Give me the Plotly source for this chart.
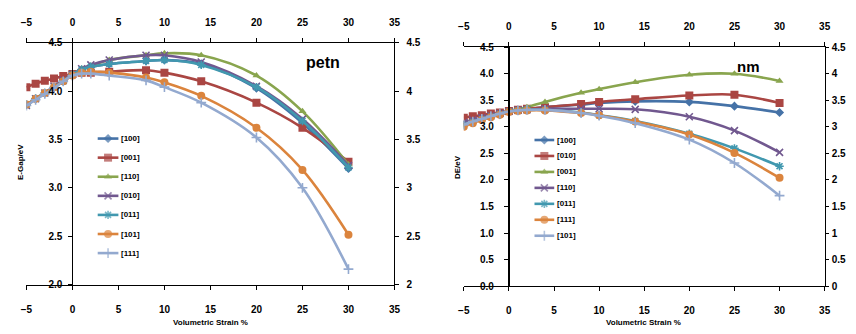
import plotly.graph_objects as go

# ---------------- data ----------------
strain = [-5, -4, -3, -2, -1, 0, 1, 2, 4, 8, 10, 14, 20, 25, 30]

petn_names = ["[100]", "[001]", "[110]", "[010]", "[011]", "[101]", "[111]"]
petn_100 = [3.86, 3.92, 3.98, 4.04, 4.11, 4.17, 4.22, 4.25, 4.28, 4.31, 4.32, 4.28, 4.03, 3.67, 3.20]
petn_001 = [4.04, 4.075, 4.105, 4.13, 4.155, 4.175, 4.19, 4.19, 4.20, 4.215, 4.19, 4.10, 3.88, 3.62, 3.27]
petn_110 = [3.85, 3.92, 3.98, 4.04, 4.11, 4.17, 4.23, 4.26, 4.32, 4.37, 4.39, 4.37, 4.16, 3.79, 3.24]
petn_010 = [3.85, 3.92, 3.98, 4.05, 4.11, 4.17, 4.23, 4.27, 4.32, 4.37, 4.37, 4.30, 4.05, 3.71, 3.23]
petn_011 = [3.86, 3.92, 3.98, 4.04, 4.10, 4.17, 4.22, 4.25, 4.28, 4.31, 4.32, 4.27, 4.04, 3.69, 3.21]
petn_101 = [3.86, 3.92, 3.98, 4.04, 4.10, 4.16, 4.19, 4.20, 4.19, 4.14, 4.09, 3.95, 3.62, 3.185, 2.515]
petn_111 = [3.85, 3.91, 3.97, 4.03, 4.10, 4.16, 4.18, 4.18, 4.16, 4.11, 4.04, 3.88, 3.52, 3.00, 2.16]

nm_names = ["[100]", "[010]", "[001]", "[110]", "[011]", "[111]", "[101]"]
nm_100 = [3.05, 3.10, 3.15, 3.19, 3.23, 3.28, 3.31, 3.33, 3.37, 3.42, 3.45, 3.48, 3.47, 3.39, 3.27]
nm_010 = [3.17, 3.20, 3.22, 3.25, 3.27, 3.30, 3.32, 3.34, 3.37, 3.43, 3.47, 3.52, 3.59, 3.605, 3.45]
nm_001 = [3.04, 3.10, 3.16, 3.21, 3.26, 3.30, 3.33, 3.37, 3.47, 3.64, 3.71, 3.84, 3.98, 4.00, 3.865]
nm_110 = [3.08, 3.13, 3.17, 3.21, 3.25, 3.29, 3.31, 3.32, 3.34, 3.34, 3.34, 3.33, 3.19, 2.93, 2.52]
nm_011 = [3.03, 3.09, 3.14, 3.19, 3.24, 3.29, 3.31, 3.32, 3.32, 3.27, 3.22, 3.11, 2.87, 2.595, 2.26]
nm_111 = [3.00, 3.07, 3.13, 3.18, 3.23, 3.28, 3.30, 3.31, 3.31, 3.26, 3.22, 3.10, 2.855, 2.51, 2.04]
nm_101 = [3.04, 3.10, 3.15, 3.20, 3.25, 3.29, 3.31, 3.32, 3.32, 3.26, 3.21, 3.07, 2.76, 2.32, 1.705]

x_ticks = [-5, 0, 5, 10, 15, 20, 25, 30, 35]

# ---------------- styles ----------------
colors = ["#4572A7", "#AA4643", "#89A54E", "#71588F", "#4198AF", "#DB843D", "#93A9CF"]
symbols = ["diamond", "square", "triangle-up", "x-thin-open", "asterisk-open", "circle", "cross-thin-open"]
msizes = [7, 8, 7, 7, 7, 8, 7]
FONT = "Liberation Sans"
W, H = 856, 334

petn_series = [petn_100, petn_001, petn_110, petn_010, petn_011, petn_101, petn_111]
nm_series = [nm_100, nm_010, nm_001, nm_110, nm_011, nm_111, nm_101]

fig = go.Figure()


def marker(i):
    m = dict(symbol=symbols[i], size=msizes[i], color=colors[i])
    if "open" in symbols[i]:
        m["line"] = dict(color=colors[i], width=1.6)
    else:
        m["line"] = dict(width=0)
    return m


for i, ys in enumerate(petn_series):
    fig.add_trace(go.Scatter(x=strain, y=ys, xaxis="x", yaxis="y", mode="lines+markers",
                             line=dict(color=colors[i], width=2.6, shape="spline", smoothing=1),
                             marker=marker(i), showlegend=False, hoverinfo="skip"))
for i, ys in enumerate(nm_series):
    fig.add_trace(go.Scatter(x=strain, y=ys, xaxis="x3", yaxis="y3", mode="lines+markers",
                             line=dict(color=colors[i], width=2.6, shape="spline", smoothing=1),
                             marker=marker(i), showlegend=False, hoverinfo="skip"))

# dummy traces so the secondary axes exist
for xa, ya in [("x2", "y2"), ("x4", "y4")]:
    fig.add_trace(go.Scatter(x=[None], y=[None], xaxis=xa, yaxis=ya, showlegend=False,
                             hoverinfo="skip"))

# ---------------- manual legends (pixel axes) ----------------
annotations = []


def add_legend(names, x0, x1, y0, step):
    for i, nm in enumerate(names):
        yy = y0 + i * step
        xm = (x0 + x1) / 2
        fig.add_trace(go.Scatter(x=[x0, xm, x1], y=[yy, yy, yy], xaxis="x5", yaxis="y5",
                                 mode="lines+markers",
                                 line=dict(color=colors[i], width=2.6),
                                 marker=dict(symbol=symbols[i], color=colors[i],
                                             size=[0, msizes[i], 0],
                                             line=marker(i)["line"]),
                                 showlegend=False, hoverinfo="skip"))
        annotations.append(dict(x=(x1 + 1) / W, y=1 - yy / H, xref="paper", yref="paper",
                                text=nm, showarrow=False, xanchor="left", yanchor="middle",
                                font=dict(family=FONT, size=8, color="black", weight="bold")))


add_legend(petn_names, 93, 114, 137.5, 19.8)
add_legend(nm_names, 536, 556, 139, 16.55)

# ---------------- axes ----------------
tf = dict(family=FONT, size=10, color="black", weight="bold")
common_x = dict(range=[-5, 35], tickvals=x_ticks, showline=True, linecolor="black", linewidth=1,
                ticks="outside", ticklen=4, tickcolor="black", showgrid=False, zeroline=False,
                tickfont=tf, fixedrange=True)

L_dom_x = [20.7 / W, 394 / W]
L_dom_y = [1 - 289 / H, 1 - 38 / H]
R_dom_x = [464.3 / W, 830.3 / W]
R_dom_y = [1 - 290.7 / H, 1 - 42.7 / H]

L_zero = L_dom_x[0] + (L_dom_x[1] - L_dom_x[0]) * 5 / 40
R_zero = R_dom_x[0] + (R_dom_x[1] - R_dom_x[0]) * 5 / 40

fig.update_layout(
    xaxis=dict(common_x, domain=L_dom_x, anchor="y", ticklabelstandoff=11),
    xaxis2=dict(common_x, domain=L_dom_x, anchor="y", overlaying="x", side="top", ticklabelstandoff=8),
    yaxis=dict(domain=L_dom_y, range=[2, 4.5], dtick=0.5, tickformat=".1f", anchor="free",
               position=L_zero, showline=True, linecolor="black", linewidth=1, ticks="outside",
               ticklen=4, tickcolor="black", showgrid=False, zeroline=False, tickfont=tf,
               ticklabelstandoff=4, fixedrange=True),
    yaxis2=dict(domain=L_dom_y, range=[2, 4.5], dtick=0.5, anchor="x", overlaying="y", side="right",
                showline=True, linecolor="black", linewidth=1, ticks="outside", ticklen=4,
                tickcolor="black", showgrid=False, zeroline=False, tickfont=tf,
                ticklabelstandoff=5, fixedrange=True),
    xaxis3=dict(common_x, domain=R_dom_x, anchor="y3", ticklabelstandoff=11),
    xaxis4=dict(common_x, domain=R_dom_x, anchor="y3", overlaying="x3", side="top", ticklabelstandoff=8),
    yaxis3=dict(domain=R_dom_y, range=[0, 4.5], dtick=0.5, tickformat=".1f", anchor="free",
                position=R_zero, showline=True, linecolor="black", linewidth=2, ticks="outside",
                ticklen=4, tickcolor="black", showgrid=False, zeroline=False, tickfont=tf,
                ticklabelstandoff=8, fixedrange=True),
    yaxis4=dict(domain=R_dom_y, range=[0, 4.5], dtick=0.5, anchor="x3", overlaying="y3", side="right",
                showline=True, linecolor="black", linewidth=1, ticks="outside", ticklen=3,
                tickcolor="black", showgrid=False, zeroline=False, tickfont=tf,
                ticklabelstandoff=1, fixedrange=True),
    xaxis5=dict(domain=[0, 1], range=[0, W], visible=False, fixedrange=True),
    yaxis5=dict(domain=[0, 1], range=[H, 0], visible=False, fixedrange=True, anchor="x5"),
)

# ---------------- titles ----------------
title_font = dict(family=FONT, size=8, color="black", weight="bold")
annotations += [
    dict(x=322 / W, y=1 - 59 / H, text="petn", font=dict(family=FONT, size=16, color="black", weight="bold")),
    dict(x=753 / W, y=1 - 63 / H, text="nm", font=dict(family=FONT, size=15, color="black", weight="bold")),
    dict(x=207.5 / W, y=1 - 328 / H, text="Volumetric Strain %", font=title_font),
    dict(x=647 / W, y=1 - 328 / H, text="Volumetric Strain %", font=title_font),
    dict(x=14 / W, y=1 - 162 / H, text="E-Gap/eV", textangle=-90, font=title_font),
    dict(x=457.7 / W, y=1 - 166.7 / H, text="DE/eV", textangle=-90, font=title_font),
]
for a in annotations[-6:]:
    a.update(xref="paper", yref="paper", showarrow=False, xanchor="center", yanchor="middle")

fig.update_layout(
    annotations=annotations,
    width=W, height=H, autosize=False,
    margin=dict(l=0, r=0, t=0, b=0),
    paper_bgcolor="white", plot_bgcolor="rgba(0,0,0,0)",
    showlegend=False,
)

fig.write_html("out.html", config={"displayModeBar": False})
